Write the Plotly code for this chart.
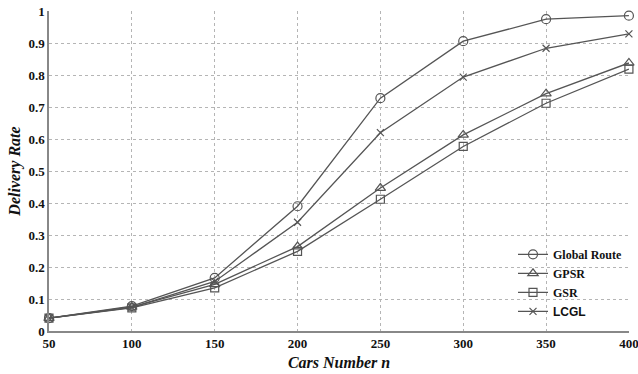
import plotly.graph_objects as go

cars = [50, 100, 150, 200, 250, 300, 350, 400]
global_route = [0.040, 0.078, 0.166, 0.390, 0.728, 0.906, 0.975, 0.986]
gpsr = [0.040, 0.075, 0.146, 0.264, 0.447, 0.613, 0.742, 0.838]
gsr = [0.040, 0.072, 0.135, 0.249, 0.412, 0.577, 0.712, 0.819]
lcgl = [0.040, 0.074, 0.155, 0.340, 0.620, 0.794, 0.884, 0.929]

x_ticks = [50, 100, 150, 200, 250, 300, 350, 400]
y_ticks = [0, 0.1, 0.2, 0.3, 0.4, 0.5, 0.6, 0.7, 0.8, 0.9, 1]
y_tick_text = ["0", "0.1", "0.2", "0.3", "0.4", "0.5", "0.6", "0.7", "0.8", "0.9", "1"]

line_color = "#555555"
series = [
    ("<b>Global Route</b>", global_route, "circle-open", 9),
    ("<b>GPSR</b>", gpsr, "triangle-up-open", 9),
    ("<b>GSR</b>", gsr, "square-open", 8),
    ("<b><span style='font-family:Liberation Sans, Arial'>LCGL</span></b>", lcgl, "x-thin-open", 7),
]

fig = go.Figure()
for name, vals, sym, sz in series:
    fig.add_trace(go.Scatter(
        x=cars, y=vals, name=name, mode="lines+markers", cliponaxis=False,
        line=dict(color=line_color, width=1.3),
        marker=dict(symbol=sym, size=sz, color=line_color,
                    line=dict(color=line_color, width=1.2)),
    ))

fig.update_layout(
    width=638, height=374,
    margin=dict(l=49, r=9, t=11, b=43),
    paper_bgcolor="white", plot_bgcolor="white",
    font=dict(family="Liberation Serif, Times New Roman, serif", color="#111111"),
    showlegend=True,
    legend=dict(
        x=0.80, y=0.285, xanchor="left", yanchor="top",
        bgcolor="rgba(0,0,0,0)", borderwidth=0,
        font=dict(family="Liberation Serif, Times New Roman, serif", size=12, color="#111111"),
        tracegroupgap=0, itemwidth=30,
    ),
)
fig.update_xaxes(
    range=[50, 400.05], tickvals=x_ticks, ticktext=[f"<b>{v}</b>" for v in x_ticks],
    showgrid=True, gridcolor="#b5b5b5", griddash="dot", gridwidth=1,
    showline=True, linecolor="#888888", linewidth=1.5, zeroline=False,
    ticks="", tickfont=dict(size=13), ticklabeloverflow="allow", automargin=False,
    title=dict(text="<b><i>Cars Number n</i></b>", font=dict(size=16), standoff=6),
)
fig.update_yaxes(
    range=[0, 1.0005], tickvals=y_ticks, ticktext=[f"<b>{t}</b>" for t in y_tick_text],
    showgrid=True, gridcolor="#b5b5b5", griddash="dot", gridwidth=1,
    showline=True, linecolor="#888888", linewidth=1.5, zeroline=False,
    ticks="", tickfont=dict(size=13), automargin=False,
    title=dict(text="<b><i>Delivery Rate</i></b>", font=dict(size=16), standoff=4),
)

fig.write_html("out.html", config={"displayModeBar": False},
               post_script="document.body.style.margin='0';document.body.style.overflow='hidden';")
